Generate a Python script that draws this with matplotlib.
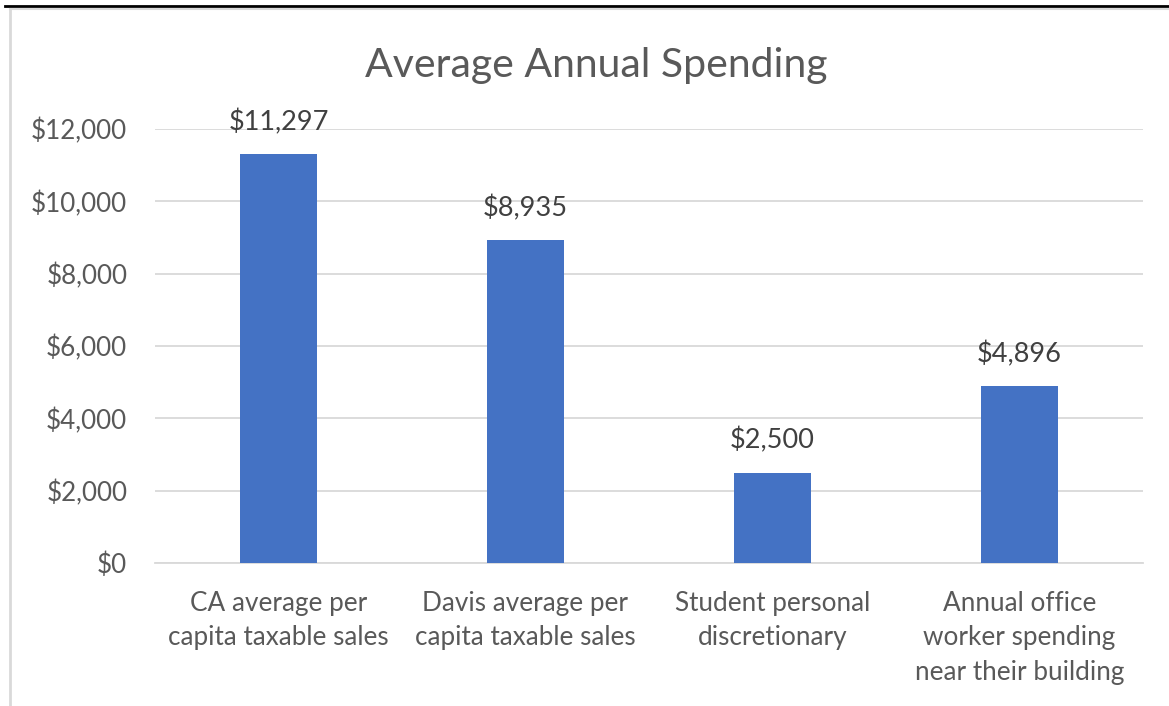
import matplotlib
matplotlib.use("Agg")
import matplotlib.pyplot as plt
from matplotlib.ticker import FuncFormatter
from matplotlib.lines import Line2D

categories = ["CA average per\ncapita taxable sales",
              "Davis average per\ncapita taxable sales",
              "Student personal\ndiscretionary",
              "Annual office\nworker spending\nnear their building"]
values = [11297, 8935, 2500, 4896]
labels = ["$11,297", "$8,935", "$2,500", "$4,896"]
yticks = [0, 2000, 4000, 6000, 8000, 10000, 12000]

plt.rcParams['font.family'] = ['Lato', 'DejaVu Sans']
grey = "#595959"

fig = plt.figure(figsize=(11.69, 7.06), dpi=100)
ax = fig.add_axes([155/1169, 1-563/706, (1143-155)/1169, (563-129)/706])

x = list(range(len(categories)))
ax.bar(x, values, width=0.31, color="#4472C4", zorder=3)
for xi, v, lab in zip(x, values, labels):
    ax.annotate(lab, (xi, v), xytext=(0, 23), textcoords="offset points",
                ha="center", va="center", fontsize=19.5, color="#404040")

ax.set_xlim(-0.5, len(categories) - 0.5)
ax.set_ylim(0, 12000)
ax.set_yticks(yticks)
ax.yaxis.set_major_formatter(FuncFormatter(lambda v, p: f"${v:,.0f}"))
ax.grid(axis="y", color="#D9D9D9", linewidth=1.3, zorder=0)
ax.set_xticks(x)
ax.set_xticklabels(categories, fontsize=18.8, color=grey, linespacing=1.47, va="top")
ax.tick_params(axis="y", labelsize=18.7, labelcolor=grey, length=0, pad=20)
ax.tick_params(axis="x", length=0, pad=20)
for s in ["top", "right", "left"]:
    ax.spines[s].set_visible(False)
ax.spines["bottom"].set_color("#D9D9D9")
ax.spines["bottom"].set_linewidth(1.3)

fig.text(596/1169, 1-65/706, "Average Annual Spending", ha="center", va="center",
         fontsize=29.5, color=grey)

# frame lines of the original screenshot
fig.add_artist(Line2D([5/1169, 1.0], [1-6/706, 1-6/706], color="black", linewidth=2))
fig.add_artist(Line2D([10/1169, 10/1169], [0, 1-9/706], color="#D9D9D9", linewidth=2))
fig.add_artist(Line2D([10/1169, 1.0], [1-9/706, 1-9/706], color="#D9D9D9", linewidth=1.5))

fig.savefig("out.png", dpi=100)
